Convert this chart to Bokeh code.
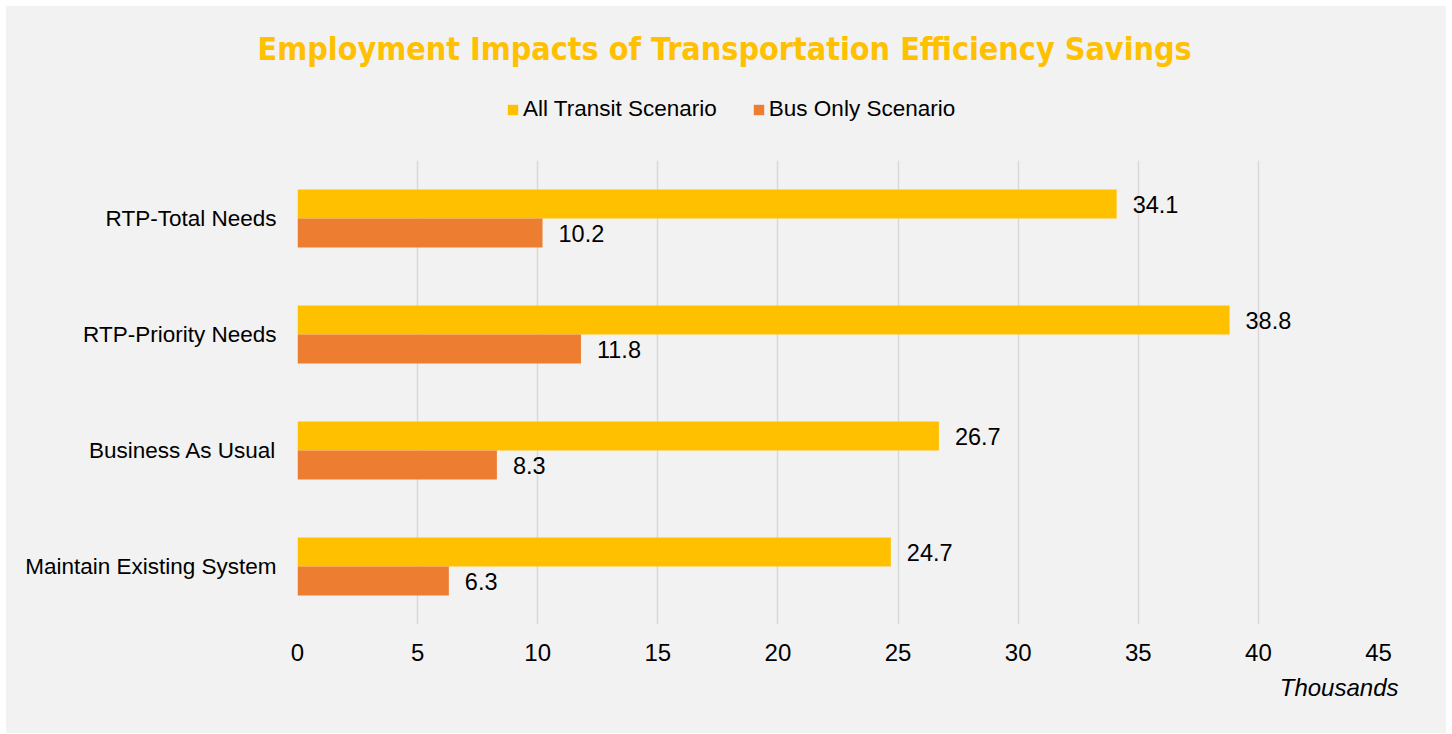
from bokeh.plotting import figure
from bokeh.layouts import column
from bokeh.models import (ColumnDataSource, FactorRange, Range1d, Legend, LegendItem, LabelSet,
                          FixedTicker, Title)
from bokeh.transform import dodge
from bokeh.core.properties import value
from bokeh.embed import file_html
from bokeh.resources import INLINE

categories = ["RTP-Total Needs", "RTP-Priority Needs", "Business As Usual", "Maintain Existing System"]
all_transit = [34.1, 38.8, 26.7, 24.7]
bus_only = [10.2, 11.8, 8.3, 6.3]
x_ticks = [0, 5, 10, 15, 20, 25, 30, 35, 40, 45]
series_names = ["All Transit Scenario", "Bus Only Scenario"]
colors = ["#FFC000", "#ED7D31"]

FONT = "Liberation Sans"
TITLE_FONT = "'DejaVu Sans Condensed', 'Liberation Sans Narrow', 'Roboto Condensed', 'DejaVu Sans'"
BG = "#F2F2F2"
W = 1440

# ---------------- header (title + legend) ----------------
h = figure(width=W, height=154, x_range=Range1d(0, 1), y_range=Range1d(0, 1),
           output_backend="svg", toolbar_location=None,
           min_border_left=291, min_border_right=68, min_border_top=64, min_border_bottom=0,
           background_fill_color=BG, background_fill_alpha=0,
           border_fill_color=BG, outline_line_color=None)
h.axis.visible = False
h.grid.visible = False

nan = float("nan")
proxy = ColumnDataSource(dict(y=[nan], r=[nan]))
lr1 = h.hbar(y="y", right="r", height=1, source=proxy, fill_color=colors[0], line_color=None)
lr2 = h.hbar(y="y", right="r", height=1, source=proxy, fill_color=colors[1], line_color=None)

h.title.text = "Employment Impacts of Transportation Efficiency Savings"
h.title.text_font = TITLE_FONT
h.title.text_font_size = "32px"
h.title.text_font_style = "bold"
h.title.text_color = "#FFC000"
h.title.align = "left"
h.title.offset = -40
h.title.standoff = 5

legend = Legend(items=[LegendItem(label=series_names[0], renderers=[lr1]),
                       LegendItem(label=series_names[1], renderers=[lr2])],
                orientation="horizontal", location=(209, 38),
                background_fill_alpha=0, border_line_color=None,
                label_text_font=FONT, label_text_font_size="22.5px", label_text_color="#000000",
                glyph_width=13, glyph_height=13, label_standoff=4, spacing=35,
                padding=0, margin=0)
h.add_layout(legend, "center")

# ---------------- main chart ----------------
src = ColumnDataSource(dict(
    cat=categories,
    a=all_transit,
    b=bus_only,
    a_lbl=[f"{v:.1f}" for v in all_transit],
    b_lbl=[f"{v:.1f}" for v in bus_only],
))

p = figure(
    width=W, height=573,
    y_range=FactorRange(factors=list(reversed(categories))),
    x_range=Range1d(0, 45),
    output_backend="svg", toolbar_location=None,
    min_border_left=291, min_border_right=68, min_border_top=0, min_border_bottom=109,
    background_fill_color=BG, border_fill_color=BG, outline_line_color=None,
)

r1 = p.hbar(y=dodge("cat", 0.125, range=p.y_range), right="a", left=0, height=0.25,
            source=src, fill_color=colors[0], line_color=None)
r2 = p.hbar(y=dodge("cat", -0.125, range=p.y_range), right="b", left=0, height=0.25,
            source=src, fill_color=colors[1], line_color=None)

for col, lbl, off in (("a", "a_lbl", 0.125), ("b", "b_lbl", -0.125)):
    ls = LabelSet(x=col, y=dodge("cat", off, range=p.y_range), text=lbl, source=src,
                  x_offset=16, text_font=value(FONT), text_font_size="23.5px", text_color="#000000",
                  text_baseline="middle", text_align="left")
    p.add_layout(ls)

p.xaxis.ticker = FixedTicker(ticks=x_ticks)
p.xaxis.axis_line_color = None
p.xaxis.major_tick_line_color = None
p.xaxis.minor_tick_line_color = None
p.xaxis.major_label_text_font = FONT
p.xaxis.major_label_text_font_size = "24px"
p.xaxis.major_label_text_color = "#000000"
p.xaxis.major_label_standoff = 13

p.yaxis.axis_line_color = None
p.yaxis.major_tick_line_color = None
p.yaxis.minor_tick_line_color = None
p.yaxis.major_label_text_font = FONT
p.yaxis.major_label_text_font_size = "22.5px"
p.yaxis.major_label_text_color = "#000000"
p.yaxis.major_label_standoff = 15

p.xgrid.grid_line_color = "#D9D9D9"
p.xgrid.grid_line_width = 1.5
p.ygrid.grid_line_color = None

p.add_layout(Title(text="Thousands", align="right", offset=-20, standoff=16,
                   text_font=FONT, text_font_size="24px", text_font_style="italic",
                   text_color="#000000"), "below")

layout = column(h, p, spacing=0, styles={"background-color": BG, "margin-left": "6px", "margin-top": "6px"})
open("out.html", "w").write(file_html(layout, INLINE))
